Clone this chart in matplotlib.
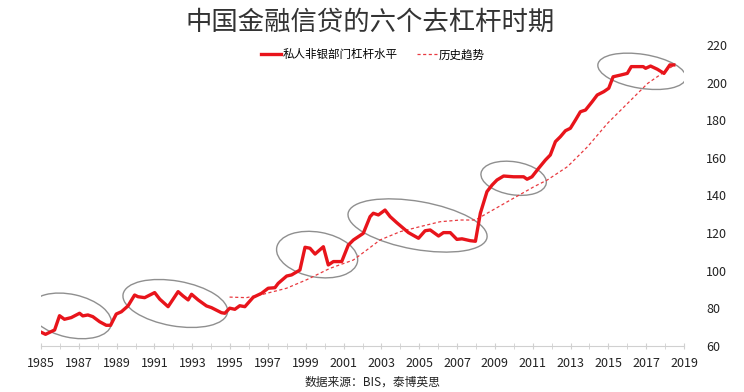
import numpy as np
import matplotlib.pyplot as plt
from matplotlib.patches import Ellipse
from matplotlib.transforms import ScaledTranslation

plt.rcParams['font.family'] = ['Noto Sans CJK SC', 'DejaVu Sans']

# 私人非银部门杠杆水平
lev_years = [1985.01, 1985.24, 1985.63, 1985.72, 1985.98, 1986.24, 1986.60, 1987.04,
             1987.21, 1987.48, 1987.74, 1988.10, 1988.45, 1988.68, 1988.98, 1989.25,
             1989.60, 1989.95, 1990.13, 1990.48, 1991.01, 1991.28, 1991.72, 1992.25,
             1992.51, 1992.78, 1992.96, 1993.31, 1993.75, 1994.01, 1994.54, 1994.72,
             1994.98, 1995.25, 1995.51, 1995.78, 1996.22, 1996.66, 1997.01, 1997.37,
             1997.54, 1997.99, 1998.25, 1998.69, 1998.96, 1999.22, 1999.49, 1999.93,
             2000.19, 2000.46, 2000.90, 2001.25, 2001.52, 2002.04, 2002.40, 2002.57,
             2002.84, 2003.19, 2003.46, 2003.81, 2004.16, 2004.43, 2004.96, 2005.31,
             2005.58, 2006.02, 2006.28, 2006.64, 2006.99, 2007.26, 2007.70, 2007.97,
             2008.23, 2008.58, 2008.85, 2009.11, 2009.46, 2009.99, 2010.52, 2010.70,
             2010.96, 2011.31, 2011.67, 2011.93, 2012.20, 2012.46, 2012.73, 2012.99,
             2013.26, 2013.52, 2013.79, 2014.14, 2014.41, 2014.76, 2015.02, 2015.25,
             2015.64, 2016.00, 2016.21, 2016.53, 2016.84, 2016.97, 2017.23, 2017.59,
             2017.94, 2018.25, 2018.46]
lev_values = [67.2, 66.1, 68.0, 68.4, 76.0, 74.1, 75.0, 77.3,
              75.9, 76.4, 75.5, 72.8, 70.9, 70.9, 76.9, 78.1,
              81.2, 87.0, 86.1, 85.6, 88.3, 84.8, 80.8, 88.8,
              86.5, 84.4, 87.4, 84.4, 81.2, 80.3, 77.6, 77.3,
              80.0, 79.4, 81.3, 80.8, 85.8, 87.9, 90.6, 90.9,
              93.2, 97.1, 97.7, 100.3, 112.4, 111.9, 108.8, 112.7,
              103.0, 104.8, 104.8, 113.6, 116.3, 119.8, 128.7, 130.5,
              129.6, 132.2, 128.7, 125.5, 122.5, 120.2, 117.2, 121.2,
              121.6, 118.4, 120.2, 120.2, 116.6, 116.9, 115.9, 115.6,
              130.5, 142.0, 145.5, 148.2, 150.3, 149.9, 149.9, 148.6,
              149.9, 154.4, 158.8, 161.5, 168.6, 171.2, 174.4, 175.7,
              180.1, 184.5, 185.4, 189.8, 193.4, 195.2, 197.0, 203.1,
              204.0, 204.9, 208.5, 208.5, 208.5, 207.6, 208.8, 207.1,
              204.9, 209.4, 209.4]

# 历史趋势
trend_years = [1994.97, 1995.86, 1996.74, 1997.98, 1999.04, 2000.28, 2001.51, 2002.22,
               2002.93, 2003.99, 2005.05, 2006.11, 2007.18, 2007.97, 2008.59, 2009.83,
               2011.06, 2011.77, 2012.84, 2013.90, 2014.96, 2016.02, 2017.08, 2018.49]
trend_values = [85.9, 85.6, 87.4, 90.6, 95.1, 101.2, 105.6, 110.9,
                116.3, 120.7, 123.4, 126.0, 126.9, 126.9, 130.5, 137.6,
                144.6, 148.2, 155.3, 165.9, 178.4, 189.0, 199.6, 209.4]

# 六个去杠杆时期 (圈的中心)
period_years = [1986.57, 1992.10, 1999.60, 2004.91, 2009.99, 2016.77]
period_levels = [75.9, 82.5, 108.5, 124.0, 149.1, 206.0]

# 圈的大小 (像素) 和倾斜角度
ell_w = [83, 106, 82, 141, 66, 89]
ell_h = [43, 45, 45, 48, 33, 34]
ell_angle = [-12.5, -10, -10, -10, -9, -9]

fig = plt.figure(figsize=(7.44, 3.92), dpi=100)
ax = fig.add_axes([0.0551, 0.1179, 0.8643, 0.7673])

red = '#e8141b'
ax.plot(lev_years, lev_values, color=red, lw=2.4, label='私人非银部门杠杆水平', zorder=3)
ax.plot(trend_years, trend_values, color='#e83a40', lw=0.9, ls=(0, (2.5, 2)), label='历史趋势', zorder=2)

for cx, cy, w, h, ang in zip(period_years, period_levels, ell_w, ell_h, ell_angle):
    tr = fig.dpi_scale_trans + ScaledTranslation(cx, cy, ax.transData)
    e = Ellipse((0, 0), w / 100, h / 100, angle=ang, transform=tr,
                fill=False, edgecolor='#8f8f8f', lw=1.0, zorder=1)
    ax.add_patch(e)

ax.set_xlim(1985, 2019)
ax.set_ylim(60, 220)
ax.set_xticks(np.arange(1985, 2020, 2))
ax.set_xticks(np.arange(1985, 2020, 1), minor=True)
ax.set_yticks(np.arange(60, 221, 20))
ax.yaxis.tick_right()

for s in ['left', 'top', 'right']:
    ax.spines[s].set_visible(False)
ax.spines['bottom'].set_color('#d0d0d0')
ax.tick_params(axis='x', which='both', direction='inout', length=4, color='#d0d0d0',
               labelsize=9, labelcolor='#222222', pad=6)
ax.tick_params(axis='y', length=0, labelsize=9, labelcolor='#222222', pad=16)

fig.text(0.497, 0.942, '中国金融信贷的六个去杠杆时期', ha='center', va='center',
         fontsize=19, color='#333333')
fig.legend(loc='center', bbox_to_anchor=(0.501, 0.86), ncol=2, frameon=False,
           fontsize=8.3, handlelength=1.7, handletextpad=0.15, columnspacing=1.7)
fig.text(0.5, 0.026, '数据来源：BIS，泰博英思', ha='center', va='center',
         fontsize=8.5, color='#222222')

fig.savefig('out.png', dpi=100)
